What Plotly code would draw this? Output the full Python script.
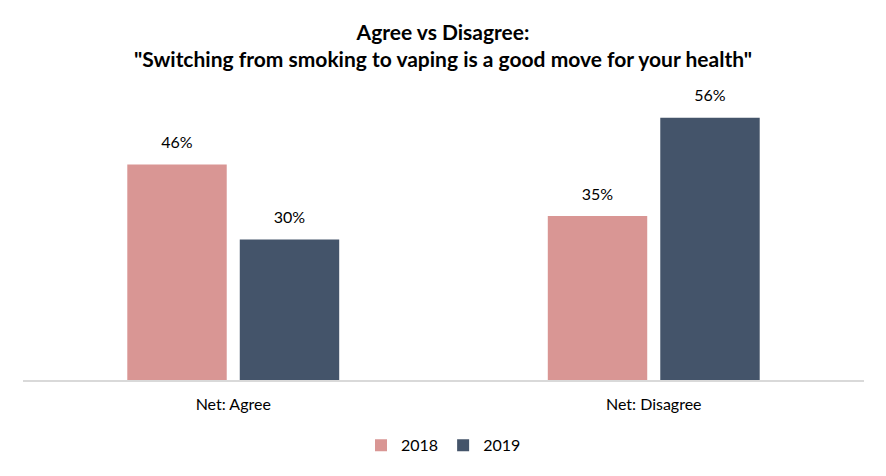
import plotly.graph_objects as go

categories = ["Net: Agree", "Net: Disagree"]
years = ["2018", "2019"]
values_2018 = [46, 35]
values_2019 = [30, 56]
colors = {"2018": "#D99694", "2019": "#44546A"}

fig = go.Figure()
for yr, vals in zip(years, [values_2018, values_2019]):
    fig.add_trace(go.Bar(
        x=categories, y=vals, name=yr, offsetgroup=yr,
        marker=dict(color=colors[yr], line=dict(width=0)),
        hoverinfo="skip",
    ))
# value labels, grouped like the bars, lifted above the bar tops
for yr, vals in zip(years, [values_2018, values_2019]):
    fig.add_trace(go.Scatter(
        x=categories, y=vals, offsetgroup=yr, mode="markers+text",
        marker=dict(size=18, color="rgba(0,0,0,0)"),
        text=[f"{v}%" for v in vals], textposition="top center",
        textfont=dict(size=16, color="#000000", family="Lato"),
        showlegend=False, cliponaxis=False, hoverinfo="skip",
    ))

fig.update_layout(
    width=886, height=476,
    barmode="group", bargap=0.465, bargroupgap=0.116,
    scattermode="group", scattergap=0.465,
    paper_bgcolor="white", plot_bgcolor="white",
    font=dict(family="Lato", size=15, color="#000000"),
    title=dict(
        text="<b>Agree vs Disagree:</b><br><b>\"Switching from smoking to vaping is a good move for your health\"</b>",
        x=0.5, xanchor="center", y=0.917, yanchor="top",
        font=dict(size=21, family="Lato"),
    ),
    margin=dict(l=23, r=22, t=99, b=96),
    showlegend=True,
    legend=dict(orientation="h", x=0.5, xanchor="center", y=-0.172, yanchor="top",
                font=dict(size=16), itemwidth=30, traceorder="normal"),
    xaxis=dict(showline=True, linecolor="#D9D9D9", linewidth=1.5, ticks="",
               tickfont=dict(size=16), ticklabelstandoff=9),
    yaxis=dict(range=[0, 60], visible=False, showgrid=False, zeroline=False),
    hovermode=False,
)

fig.write_html("out.html", config={"displayModeBar": False},
               post_script="document.body.style.margin='0';")
